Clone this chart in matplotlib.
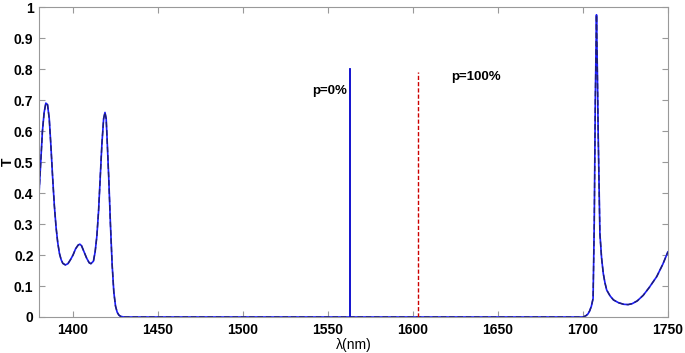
import matplotlib
matplotlib.use("Agg")
import matplotlib.pyplot as plt

plt.rcParams['font.family'] = ['Liberation Sans', 'DejaVu Sans']

# Transmission spectrum
wl_left = [1380, 1381, 1382, 1383, 1384, 1385, 1386, 1387, 1388, 1389, 1390, 1391, 1392, 1393,
           1394, 1395.5, 1397, 1398.5, 1400, 1401.5, 1403, 1404, 1405, 1406.5, 1408, 1409.5,
           1410.5, 1412, 1413, 1414, 1415, 1416, 1417, 1418, 1418.8, 1419.5, 1420, 1421, 1422,
           1423, 1424, 1425, 1426, 1427, 1428, 1430]
t_left = [0.40, 0.50, 0.60, 0.66, 0.69, 0.685, 0.64, 0.55, 0.45, 0.36, 0.29, 0.24, 0.205, 0.185,
          0.173, 0.168, 0.172, 0.185, 0.20, 0.22, 0.232, 0.235, 0.23, 0.21, 0.19, 0.175,
          0.172, 0.18, 0.21, 0.26, 0.34, 0.45, 0.56, 0.64, 0.66, 0.64, 0.58, 0.45, 0.30,
          0.17, 0.08, 0.035, 0.015, 0.006, 0.002, 0.0]
wl_right = [1700, 1701, 1702, 1703, 1704, 1705, 1706, 1706.7, 1707.3, 1708.0, 1708.5, 1709.0,
            1710, 1711, 1712, 1713, 1714, 1716, 1718, 1721, 1724, 1726.6, 1729, 1732, 1735.5,
            1739, 1743.4, 1747, 1750]
t_right = [0.0, 0.002, 0.005, 0.01, 0.02, 0.035, 0.06, 0.31, 0.70, 0.975, 0.80, 0.59,
           0.27, 0.19, 0.14, 0.11, 0.087, 0.068, 0.055, 0.046, 0.041, 0.04, 0.043, 0.052, 0.07,
           0.095, 0.13, 0.17, 0.21]
wavelength = wl_left + wl_right
transmission = t_left + t_right

# Resonance markers
p0_wl, p0_h = 1563, 0.80
p100_wl, p100_h = 1603, 0.79

fig = plt.figure(figsize=(6.85, 3.53), dpi=100)
ax = fig.add_axes([0.057, 0.102, 0.918, 0.878])

ax.plot(wavelength, transmission, color='#1a1aff', lw=1.2)
ax.plot(wavelength, transmission, color='#202070', lw=1.0, ls=(0, (4, 2)))
ax.plot([p0_wl, p0_wl], [0, p0_h], color='#0000cc', lw=1.3)
ax.plot([p100_wl, p100_wl], [0, p100_h], color='#cc0000', lw=1.0, ls=(0, (3, 1.5)))

ax.text(1561, 0.73, 'p=0%', ha='right', va='center', fontsize=9.5, fontweight='bold')
ax.text(1622.5, 0.775, 'p=100%', ha='left', va='center', fontsize=9.5, fontweight='bold')

ax.set_xlim(1380, 1750)
ax.set_ylim(0, 1)
ax.set_xticks([1400, 1450, 1500, 1550, 1600, 1650, 1700, 1750])
ax.set_yticks([0, 0.1, 0.2, 0.3, 0.4, 0.5, 0.6, 0.7, 0.8, 0.9, 1])
ax.set_yticklabels(['0', '0.1', '0.2', '0.3', '0.4', '0.5', '0.6', '0.7', '0.8', '0.9', '1'])
ax.tick_params(direction='in', top=True, right=True, length=4, color='#999999',
               labelsize=10, pad=4)
for lab in ax.get_xticklabels() + ax.get_yticklabels():
    lab.set_fontweight('bold')
for s in ax.spines.values():
    s.set_color('#999999')

ax.set_xlabel('λ(nm)', fontsize=10, labelpad=1)
ax.set_ylabel('T', fontsize=10, fontweight='bold')
ax.yaxis.set_label_coords(-0.038, 0.5)

fig.savefig('out.png', dpi=100)
